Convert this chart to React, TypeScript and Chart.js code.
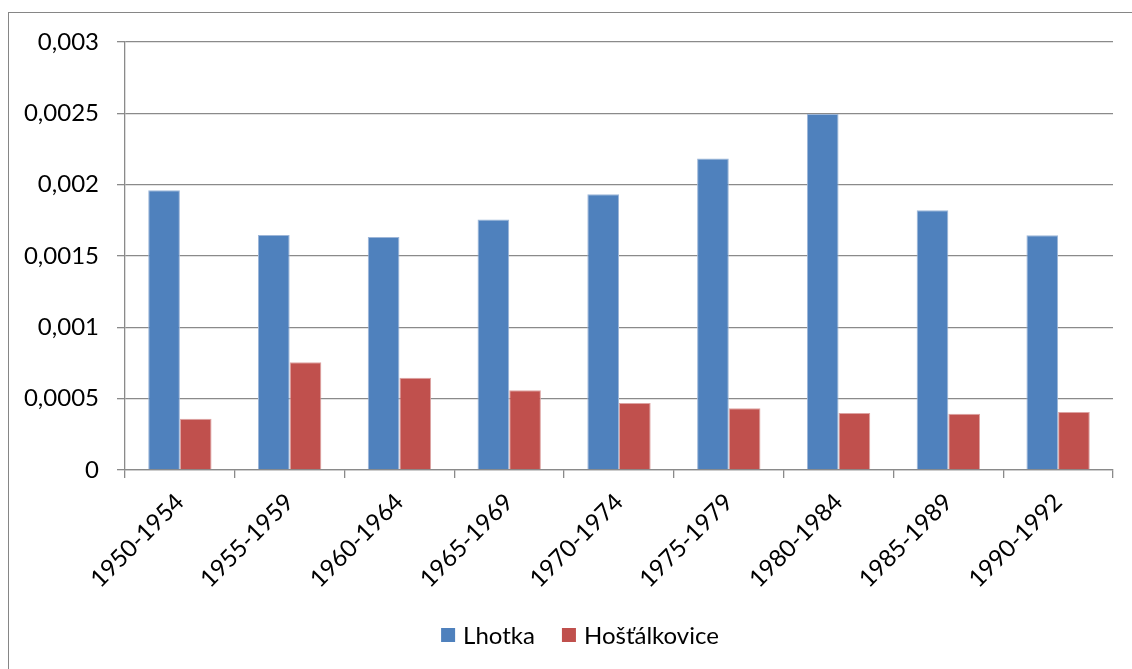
import React, { useEffect, useRef } from 'react';
import { Chart, registerables } from 'chart.js';

Chart.register(...registerables);

const categories = [
  '1950-1954',
  '1955-1959',
  '1960-1964',
  '1965-1969',
  '1970-1974',
  '1975-1979',
  '1980-1984',
  '1985-1989',
  '1990-1992',
];
const lhotka = [0.00196, 0.001647, 0.001633, 0.001755, 0.001932, 0.002184, 0.002495, 0.00182, 0.001645];
const hostalkovice = [0.00036, 0.000755, 0.000647, 0.000559, 0.00047, 0.000432, 0.0004, 0.000395, 0.000407];
const seriesNames = ['Lhotka', 'Hošťálkovice'];
const seriesColors = ['#4F81BD', '#C0504D'];
const seriesBorders = ['#9DB6D8', '#DDA3A2'];
const yTickLabels = ['0', '0,0005', '0,001', '0,0015', '0,002', '0,0025', '0,003'];

const FONT = 'Lato, "Open Sans", "Liberation Sans", sans-serif';
const GRID = '#8a8a8a';

const framePlugin = {
  id: 'frame',
  beforeDraw(chart: any) {
    const ctx = chart.ctx;
    ctx.save();
    ctx.fillStyle = '#ffffff';
    ctx.fillRect(0, 0, chart.width, chart.height);
    ctx.strokeStyle = '#868686';
    ctx.lineWidth = 1;
    ctx.strokeRect(8.5, 12.5, chart.width + 40, chart.height + 40);
    ctx.restore();
  },
};

const legendPlugin = {
  id: 'customLegend',
  afterDraw(chart: any) {
    const ctx = chart.ctx;
    ctx.save();
    ctx.font = `24px ${FONT}`;
    ctx.textBaseline = 'middle';
    ctx.textAlign = 'left';
    const box = 14;
    const gapText = 8;
    const gapItem = 27;
    const datasets = chart.data.datasets;
    const widths = datasets.map((d: any) => box + gapText + ctx.measureText(d.label).width);
    const total = widths.reduce((a: number, b: number) => a + b, 0) + gapItem * (datasets.length - 1);
    let x = 580 - total / 2;
    const cy = 635;
    datasets.forEach((d: any, i: number) => {
      ctx.fillStyle = d.backgroundColor;
      ctx.fillRect(x, cy - box / 2, box, box);
      ctx.fillStyle = '#000000';
      ctx.fillText(d.label, x + box + gapText, cy + 1);
      x += widths[i] + gapItem;
    });
    ctx.restore();
  },
};

export default function App() {
  const ref = useRef<HTMLCanvasElement | null>(null);

  useEffect(() => {
    if (!ref.current) return;
    const chart = new Chart(ref.current, {
      type: 'bar',
      data: {
        labels: categories,
        datasets: [
          {
            label: seriesNames[0],
            data: lhotka,
            backgroundColor: seriesColors[0],
            borderColor: seriesBorders[0],
            borderWidth: 1,
            categoryPercentage: 0.577,
            barPercentage: 1,
          },
          {
            label: seriesNames[1],
            data: hostalkovice,
            backgroundColor: seriesColors[1],
            borderColor: seriesBorders[1],
            borderWidth: 1,
            categoryPercentage: 0.577,
            barPercentage: 1,
          },
        ],
      },
      options: {
        responsive: false,
        animation: false,
        layout: { padding: { top: 42, right: 19, bottom: 79, left: 0 } },
        plugins: {
          legend: { display: false },
          tooltip: { enabled: false },
          title: { display: false },
        },
        scales: {
          x: {
            offset: true,
            grid: {
              offset: true,
              drawOnChartArea: false,
              drawTicks: true,
              tickLength: 8,
              color: GRID,
              lineWidth: 1.3,
            },
            border: { display: true, color: GRID, width: 1.3 },
            ticks: {
              autoSkip: false,
              maxRotation: 45,
              minRotation: 45,
              padding: 10,
              color: '#000000',
              font: { family: FONT, size: 24 },
            },
            afterFit(scale: any) {
              scale.height = 120;
            },
          },
          y: {
            min: 0,
            max: 0.003,
            ticks: {
              stepSize: 0.0005,
              padding: 18,
              color: '#000000',
              font: { family: FONT, size: 24 },
              callback: (_v: any, i: number) => yTickLabels[i],
            },
            grid: {
              drawTicks: true,
              tickLength: 8,
              color: GRID,
              lineWidth: 1.3,
            },
            border: { display: true, color: GRID, width: 1.3 },
            afterFit(scale: any) {
              scale.width = 125;
            },
          },
        },
      },
      plugins: [framePlugin, legendPlugin],
    });
    return () => chart.destroy();
  }, []);

  return (
    <div style={{ position: 'absolute', left: 0, top: 0, width: 1132, height: 669 }}>
      <canvas ref={ref} width={1132} height={669} style={{ display: 'block', width: 1132, height: 669 }} />
    </div>
  );
}
